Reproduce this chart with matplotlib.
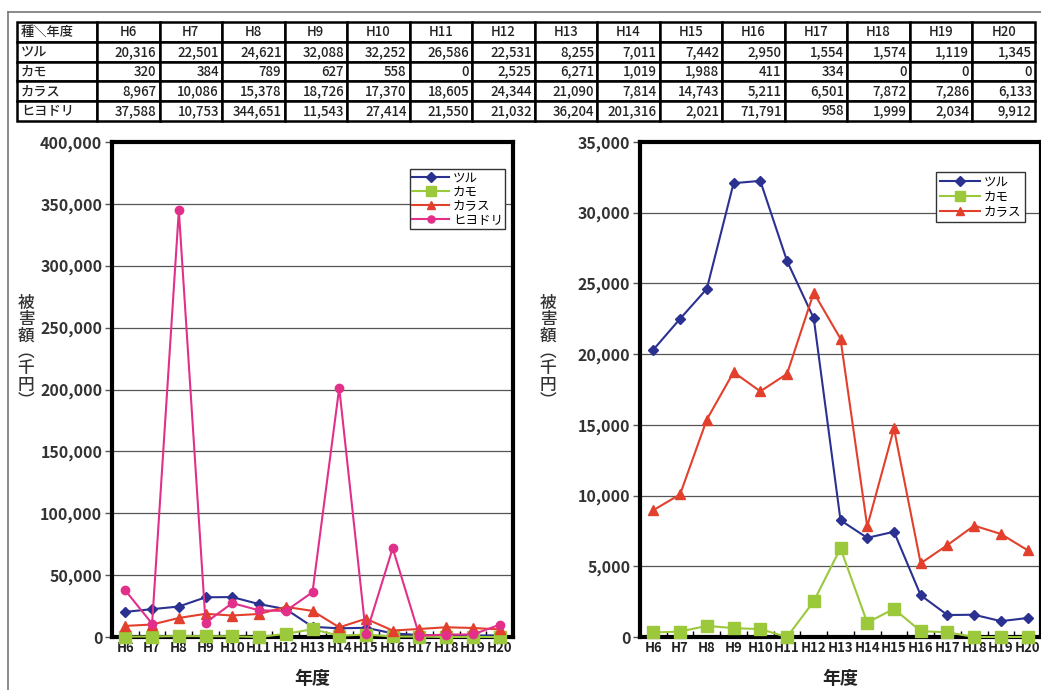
import matplotlib
matplotlib.use("Agg")
import matplotlib.pyplot as plt
from matplotlib.ticker import FuncFormatter, MultipleLocator, FixedLocator

plt.rcParams['font.family'] = ['Noto Sans CJK JP', 'DejaVu Sans']

# 年度別・鳥種別の被害額（千円）
years = ["H6", "H7", "H8", "H9", "H10", "H11", "H12", "H13", "H14",
         "H15", "H16", "H17", "H18", "H19", "H20"]
species = ["ツル", "カモ", "カラス", "ヒヨドリ"]
tsuru = [20316, 22501, 24621, 32088, 32252, 26586, 22531, 8255, 7011,
         7442, 2950, 1554, 1574, 1119, 1345]
kamo = [320, 384, 789, 627, 558, 0, 2525, 6271, 1019,
        1988, 411, 334, 0, 0, 0]
karasu = [8967, 10086, 15378, 18726, 17370, 18605, 24344, 21090, 7814,
          14743, 5211, 6501, 7872, 7286, 6133]
hiyodori = [37588, 10753, 344651, 11543, 27414, 21550, 21032, 36204, 201316,
            2021, 71791, 958, 1999, 2034, 9912]
series = [tsuru, kamo, karasu, hiyodori]

colors = ["#2B3190", "#9CC83C", "#E2402C", "#E2308A"]
markers = ["D", "s", "^", "o"]
msizes = [5.5, 8, 7, 6]

fig = plt.figure(figsize=(10.41, 6.9), dpi=100)
W, H = 1041, 690


def box(x0, y0, x1, y1):
    return [x0 / W, 1 - y1 / H, (x1 - x0) / W, (y1 - y0) / H]


# outer frame
fig.add_artist(plt.Line2D([8 / W, 1], [1 - 12 / H, 1 - 12 / H],
                          color="#777777", lw=1.2, transform=fig.transFigure))
fig.add_artist(plt.Line2D([8 / W, 8 / W], [0, 1 - 12 / H],
                          color="#777777", lw=1.2, transform=fig.transFigure))

# data table
ax_tab = fig.add_axes(box(17, 22, 1035, 121))
ax_tab.axis("off")
cells = [[name] + [f"{v:,}" for v in vals] for name, vals in zip(species, series)]
first_w = 80 / (1035 - 17)
col_w = [first_w] + [(1 - first_w) / len(years)] * len(years)
tab = ax_tab.table(cellText=cells, colLabels=["種＼年度"] + years,
                   colWidths=col_w, bbox=[0, 0, 1, 1])
tab.auto_set_font_size(False)
for (r, c), cell in tab.get_celld().items():
    cell.set_linewidth(1.8)
    cell.set_edgecolor("black")
    txt = cell.get_text()
    txt.set_fontsize(9.5)
    txt.set_color("#222222")
    txt.set_fontweight("medium")
    if r == 0 and c > 0:
        loc = "center"
    elif c == 0:
        loc = "left"
    else:
        loc = "right"
    cell._loc = loc
    txt.set_ha(loc)
    cell.PAD = 0.05


def style_axes(ax, ymax, step, n):
    x = range(len(years))
    for i in range(n):
        ax.plot(x, series[i], color=colors[i], marker=markers[i],
                markersize=msizes[i], lw=1.5, label=species[i], clip_on=False,
                zorder=3 + i)
    ax.set_xlim(-0.5, len(years) - 0.5)
    ax.set_ylim(0, ymax)
    ax.set_xticks(list(x))
    ax.set_xticklabels(years, fontsize=9.5, fontweight="bold", color="#222222")
    ax.xaxis.set_minor_locator(FixedLocator([i + 0.5 for i in range(len(years) - 1)]))
    ax.yaxis.set_major_locator(MultipleLocator(step))
    ax.yaxis.set_major_formatter(FuncFormatter(lambda v, p: f"{int(v):,}"))
    ax.tick_params(axis="y", labelsize=11.5, labelcolor="#333333",
                   length=5, width=1, direction="out", pad=2, color="#555555")
    ax.tick_params(axis="x", which="major", length=0, pad=3)
    ax.tick_params(axis="x", which="minor", length=4, width=1, direction="in")
    for lab in ax.get_yticklabels():
        lab.set_fontweight("bold")
    ax.grid(axis="y", color="#555555", lw=0.9)
    ax.set_axisbelow(True)
    for s in ax.spines.values():
        s.set_linewidth(3)
        s.set_color("black")
    ax.set_xlabel("年度", fontsize=13, fontweight="bold", labelpad=10,
                  color="#222222")


ax1 = fig.add_axes(box(112, 142, 513, 637))
style_axes(ax1, 400000, 50000, 4)
leg1 = ax1.legend(loc="upper right", bbox_to_anchor=(0.98, 0.945), fontsize=9,
                  frameon=True, fancybox=False, edgecolor="#333333",
                  framealpha=1, borderpad=0.15, labelspacing=0.1,
                  handlelength=3.0, handletextpad=0.3, borderaxespad=0,
                  markerscale=0.85)
leg1.get_frame().set_linewidth(1)

ax2 = fig.add_axes(box(640, 142, 1041, 637))
style_axes(ax2, 35000, 5000, 3)
leg2 = ax2.legend(loc="upper right", bbox_to_anchor=(0.96, 0.94), fontsize=9,
                  frameon=True, fancybox=False, edgecolor="#333333",
                  framealpha=1, borderpad=0.3, labelspacing=0.15,
                  handlelength=3.2, handletextpad=0.3, borderaxespad=0,
                  markerscale=0.85)
leg2.get_frame().set_linewidth(1)

# vertical y-axis labels
ylab = "\n".join("被害額︵千円︶")
for xpix in (26, 548):
    fig.text(xpix / W, 1 - 352 / H, ylab, fontsize=12, fontweight="medium",
             ha="center", va="center", linespacing=0.88, color="#333333")

fig.savefig("out.png", dpi=100)
